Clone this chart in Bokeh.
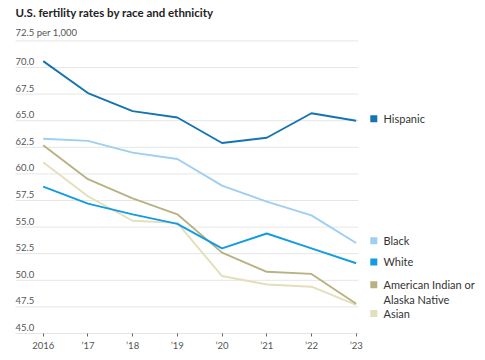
from bokeh.plotting import figure
from bokeh.models import Range1d, Label, FixedTicker
from bokeh.embed import file_html
from bokeh.resources import INLINE

years = [2016, 2017, 2018, 2019, 2020, 2021, 2022, 2023]
year_labels = ["2016", "’17", "’18", "’19", "’20", "’21", "’22", "’23"]
hispanic = [70.6, 67.6, 65.9, 65.3, 62.9, 63.4, 65.7, 65.0]
black = [63.3, 63.1, 62.0, 61.4, 58.9, 57.4, 56.1, 53.5]
white = [58.8, 57.2, 56.2, 55.3, 53.0, 54.4, 53.0, 51.6]
aian = [62.7, 59.5, 57.7, 56.2, 52.6, 50.8, 50.6, 47.8]
asian = [61.1, 57.9, 55.6, 55.4, 50.4, 49.6, 49.4, 47.7]
y_ticks = [45.0, 47.5, 50.0, 52.5, 55.0, 57.5, 60.0, 62.5, 65.0, 67.5, 70.0, 72.5]
names = ["Hispanic", "Black", "White", "American Indian or\nAlaska Native", "Asian"]
colors = ["#1574b0", "#9ecff2", "#139ce0", "#b8b282", "#e3dfbb"]
values = [hispanic, black, white, aian, asian]
legend_nudge_px = [1.9, 2.3, 1.3, 18.9, -8.7]

FONT = "Lato"
W, H = 485, 360
BOTTOM = 27
FH = H - BOTTOM
px_per_year = 44.71
px_per_unit = 10.64
x0 = 2016 - 42.7 / px_per_year
x1 = x0 + W / px_per_year
y1 = 45 + FH / px_per_unit

def dx(px):
    return x0 + px / px_per_year

p = figure(width=W, height=H, min_border_left=0, min_border_right=0,
           min_border_top=0, min_border_bottom=BOTTOM,
           x_range=Range1d(x0, x1), y_range=Range1d(45, y1),
           output_backend="svg", toolbar_location=None)
p.outline_line_color = None
p.background_fill_color = "white"
p.border_fill_color = "white"
p.yaxis.visible = False
p.xgrid.grid_line_color = None
p.ygrid.grid_line_color = None

ax = p.xaxis[0]
ax.ticker = FixedTicker(ticks=years)
ax.major_label_overrides = {y: l for y, l in zip(years, year_labels)}
ax.axis_line_color = None
ax.major_tick_line_color = "#666666"
ax.major_tick_in = 0
ax.major_tick_out = 3
ax.minor_tick_line_color = None
ax.major_label_text_font = FONT
ax.major_label_text_font_size = "9.5px"
ax.major_label_text_color = "#555555"
ax.major_label_standoff = 3

# gridlines restricted to the plotting area
gl, gr = dx(15), dx(358)
p.segment(x0=[gl] * len(y_ticks), x1=[gr] * len(y_ticks), y0=y_ticks, y1=y_ticks,
          line_color="#e6e6e6", line_width=1)
p.segment(x0=[gl], x1=[gr], y0=[y_ticks[0]], y1=[y_ticks[0]], line_color="#d8d8d8", line_width=1)

for vals, col in list(zip(values, colors))[::-1]:
    p.line(years, vals, line_color=col, line_width=1.9)

for t in y_ticks:
    txt = f"{t:.1f}" + (" per 1,000" if t == 72.5 else "")
    p.add_layout(Label(x=gl, y=t + 2.5 / px_per_unit, text=txt, text_font=FONT,
                       text_font_size="9.5px", text_color="#555555",
                       text_baseline="bottom", text_align="left"))

p.add_layout(Label(x=gl, y=45 + (332.7 - 11.5) / px_per_unit,
                   text="U.S. fertility rates by race and ethnicity",
                   text_font=FONT, text_font_style="bold", text_font_size="11.5px",
                   text_color="#222222", text_baseline="middle", text_align="left"))

sq_x = dx(373.3)
tx_x = dx(383)
for name, vals, col, nud in zip(names, values, colors, legend_nudge_px):
    yy = vals[-1] + nud / px_per_unit
    p.scatter([sq_x], [yy], marker="square", size=7, fill_color=col, line_color=None)
    lines = name.split("\n")
    for i, ln in enumerate(lines):
        p.add_layout(Label(x=tx_x, y=yy - i * 15 / px_per_unit, text=ln, text_font=FONT,
                           text_font_size="11px", text_color="#333333",
                           text_baseline="middle", text_align="left"))

open("out.html", "w").write(file_html(p, INLINE))
